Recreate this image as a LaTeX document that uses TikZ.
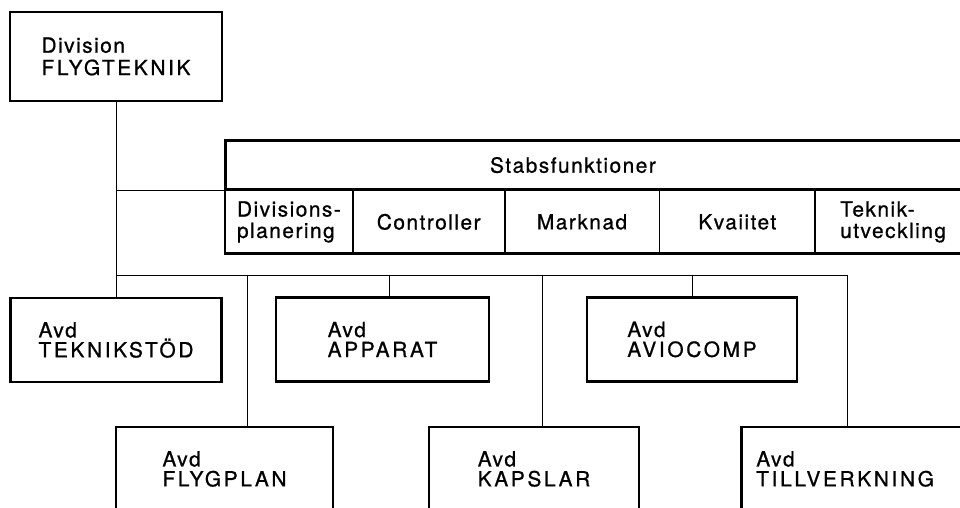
\documentclass[tikz,border=0pt]{standalone}
\usepackage{fontspec}
\setmainfont{TeX Gyre Heros}[LetterSpace=7,FakeBold=0.8]
\usetikzlibrary{positioning}
\newcommand\chartfont{\fontsize{21}{20}\selectfont}
\newcommand\wide[1]{{\addfontfeature{LetterSpace=12.5}#1}}

\begin{document}
\begin{tikzpicture}[x=1bp,y=-1bp,
    unit/.style={draw,line width=2.6bp,align=left,minimum height=84bp,inner sep=0pt,font=\chartfont},
    cell/.style={draw,line width=0.8bp,align=left,minimum height=63bp,inner sep=0pt,
      font=\fontsize{21}{21.5}\selectfont},
    link/.style={line width=0.9bp}]
  \useasboundingbox (0,0) rectangle (960,508);
  \clip (0,0) rectangle (960,508);

  \node[unit,minimum width=212bp,minimum height=89bp,font=\fontsize{21}{22.5}\selectfont]
    (div) at (116,56.5) {Division\\\wide{FLYGTEKNIK}};

  % stabsfunktioner
  \node[cell,minimum width=127bp,anchor=north west] (c1) at (225,190) {Divisions-\\planering};
  \node[cell,minimum width=151bp,right=0pt of c1] (c2) {Controller};
  \node[cell,minimum width=154bp,right=0pt of c2] (c3) {Marknad};
  \node[cell,minimum width=155bp,right=0pt of c3] (c4) {Kvaiitet};
  \node[cell,minimum width=155bp,right=0pt of c4] (c5) {Teknik-\\utveckling};
  \node[draw,line width=1.8bp,minimum width=742bp,minimum height=48bp,inner sep=0pt,anchor=south west,
    label={[xshift=-24bp,font=\chartfont]center:Stabsfunktioner}] (stab) at (c1.north west) {};
  \draw[line width=2.6bp] (stab.north west) rectangle (c5.south east);

  % avdelningar
  \node[unit,minimum width=211bp] (tek) at (116,340) {Avd\\\wide{TEKNIKSTÖD}};
  \node[unit,minimum width=213bp] (app) at (382.5,339.5) {Avd\\\wide{APPARAT}};
  \node[unit,minimum width=210bp] (avio) at (692,339.5) {Avd\\\wide{AVIOCOMP}};
  \node[unit,minimum width=217bp] (fly) at (224.5,469) {Avd\\\wide{FLYGPLAN}};
  \node[unit,minimum width=210bp] (kap) at (534,469) {Avd\\\wide{KAPSLAR}};
  \node[unit,text width=225bp,inner xsep=15bp,anchor=west] (till) at (740,469) {Avd\\\wide{TILLVERKNING}};

  \draw[link] (div.south) -- (tek.north);
  \draw[link] (div.south |- c1.north west) -- (c1.north west);
  \coordinate (bus-w) at (116,275);
  \coordinate (bus-e) at (847,275);
  \draw[link] (bus-w) -- (bus-e);
  \foreach \n/\x in {fly/247,app/389,kap/542,avio/692,till/847}{
    \coordinate (tap-\n) at (\x,275);
    \draw[link] (tap-\n) -- (tap-\n |- \n.north);
  }
\end{tikzpicture}
\end{document}
